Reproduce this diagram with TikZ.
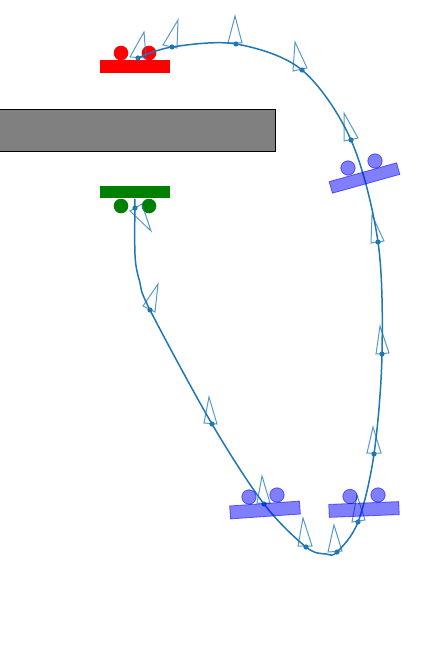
\documentclass[tikz,border=0pt]{standalone}
\begin{document}
\begin{tikzpicture}[x=1pt,y=-1pt,
  pathline/.style={draw={rgb,255:red,31;green,119;blue,180},line width=1.5pt},
  heading/.style={draw={rgb,255:red,31;green,119;blue,180},draw opacity=0.75,line width=1pt,line join=miter},
  dotmark/.style={fill={rgb,255:red,31;green,119;blue,180}},
  bluecart/.style={fill=blue,fill opacity=0.5,draw=blue,draw opacity=0.55,line width=0.8pt},
]
\useasboundingbox (0,0) rectangle (430,650);
% grey bar
\draw[fill={rgb,255:red,128;green,128;blue,128},draw=black,line width=1pt] (-5,110) rectangle (275,151);
% red cart
\fill[red] (100,60) rectangle (170,73);
\fill[red] (121,53) circle (7.3);
\fill[red] (149,53) circle (7.3);
% green cart
\fill[green!50!black] (100,186) rectangle (170,198);
\fill[green!50!black] (121,206) circle (7.3);
\fill[green!50!black] (149,206) circle (7.3);
% path
\draw[pathline] plot[smooth,tension=0.55] coordinates {(135,199) (135,255) (139.5,281) (150,310) (212,424) (264,504) (306,547) (326,554) (337,552) (358,522) (374,454) (382,354) (378,242) (351,140) (302,70) (236,44) (172,47) (138,58)};
% headings
\foreach \a/\b/\c in {{(144,32)}/{(130,57)}/{(146,58)},{(178,20)}/{(163,45)}/{(177,48)},{(235,16)}/{(228,43)}/{(242,43)},{(295,42)}/{(293,71)}/{(307,68)},{(344,113)}/{(344,141)}/{(358,138)},{(372,215)}/{(371,243)}/{(384,241)},{(380,326)}/{(376,354)}/{(389,353)},{(373,427)}/{(367,453)}/{(381,453)},{(357,495)}/{(352,522)}/{(365,520)},{(334,525)}/{(328,552)}/{(342,551)},{(303,518)}/{(298,546)}/{(312,546)},{(262,476)}/{(257,503)}/{(270,503)},{(209,397)}/{(204,423)}/{(217,424)},{(158,284)}/{(143,306)}/{(155,312)},{(151,231)}/{(130,211)}/{(142,204)}}
  \draw[heading] \a -- \b -- \c -- cycle;
\foreach \p in {(138,58),(172,47),(236,44),(302,70),(351,140),(378,242),(382,354),(374,454),(358,522),(337,552),(306,547),(264,504),(212,424),(150,310),(135,208)}
  \fill[dotmark] \p circle (2.6);
% blue carts
\begin{scope}[shift={(364.5,178)},rotate=15.6]
  \draw[bluecart] (-35,-6) rectangle (35,6);
\end{scope}
\draw[bluecart] (348,168) circle (7.2);
\draw[bluecart] (375,161) circle (7.2);
\begin{scope}[shift={(265,510)},rotate=4]
  \draw[bluecart] (-35,-6.5) rectangle (35,6.5);
\end{scope}
\draw[bluecart] (249,497) circle (7.2);
\draw[bluecart] (277,495) circle (7.2);
\begin{scope}[shift={(364,509.5)},rotate=2.3]
  \draw[bluecart] (-35,-6.5) rectangle (35,6.5);
\end{scope}
\draw[bluecart] (350,496.5) circle (7.2);
\draw[bluecart] (378,495) circle (7.2);
\end{tikzpicture}
\end{document}
